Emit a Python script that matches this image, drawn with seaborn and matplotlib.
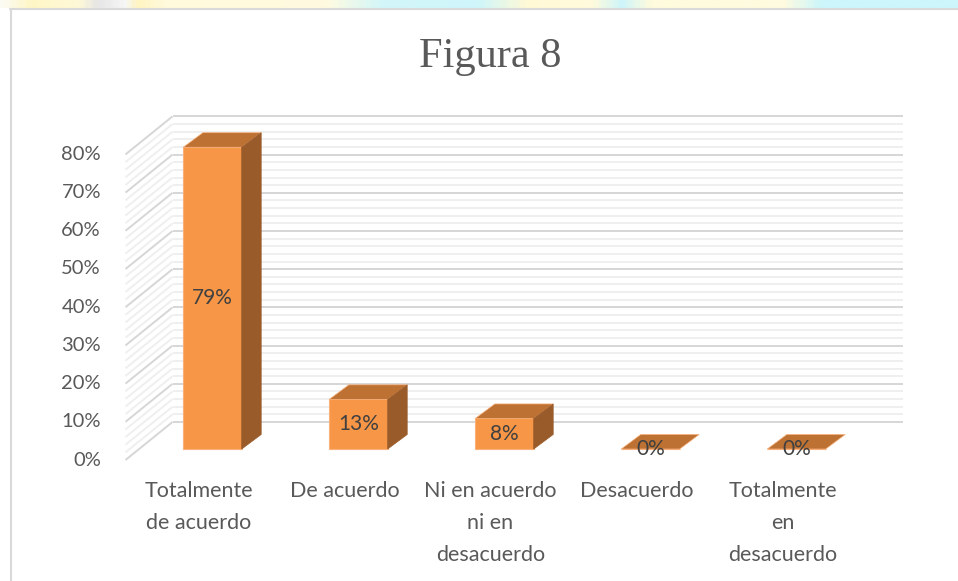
"""Figura 8: 3D-style column chart (Excel look) rebuilt with seaborn + matplotlib."""

import matplotlib

matplotlib.use("Agg")

import matplotlib.pyplot as plt
import numpy as np
import pandas as pd
import seaborn as sns
from matplotlib.colors import LinearSegmentedColormap
from matplotlib.lines import Line2D
from matplotlib.patches import Polygon
from matplotlib.transforms import offset_copy

# --- data -------------------------------------------------------------------
categories = [
    "Totalmente\nde acuerdo",
    "De acuerdo",
    "Ni en acuerdo\nni en\ndesacuerdo",
    "Desacuerdo",
    "Totalmente\nen\ndesacuerdo",
]
values = [0.79, 0.13, 0.08, 0.0, 0.0]
value_labels = ["79%", "13%", "8%", "0%", "0%"]
yticks = [0.0, 0.1, 0.2, 0.3, 0.4, 0.5, 0.6, 0.7, 0.8]
ytick_labels = ["0%", "10%", "20%", "30%", "40%", "50%", "60%", "70%", "80%"]
minor_step = 0.02
title = "Figura 8"

# --- style ------------------------------------------------------------------
FRONT = "#F79646"
TOP = "#BD7132"
SIDE = "#9A5B2A"
EDGE = "#F9B07A"
TEXT = "#595959"
LABEL = "#404040"
MAJOR = "#D6D6D6"
MINOR = "#EFEFEF"

sns.set_style("white")
plt.rcParams["font.family"] = ["Lato", "DejaVu Sans"]

W, H = 958, 581
fig = plt.figure(figsize=(W / 100, H / 100), dpi=100)
fig.patch.set_facecolor("white")

# faint watermark strip along the top edge
strip = fig.add_axes([0, 1 - 8 / H, 1, 8 / H])
stops = [
    (0.00, "#FBFBF2"), (0.03, "#FFF6C6"), (0.08, "#FFF9D8"), (0.10, "#E6E6E6"),
    (0.13, "#F7F7F7"), (0.14, "#FFF4C0"), (0.17, "#FFFADC"), (0.34, "#FFFBE0"),
    (0.40, "#D2F6FA"), (0.50, "#CFF6FA"), (0.55, "#FFF9D6"), (0.62, "#FFFBDC"),
    (0.65, "#CDF5FA"), (0.68, "#FFFBDD"), (0.82, "#FFFBE0"), (0.86, "#CCF6FB"),
    (1.00, "#CCF6FB"),
]
cmap = LinearSegmentedColormap.from_list("wm", stops)
strip.imshow(np.linspace(0, 1, 400)[None, :], aspect="auto", cmap=cmap)
strip.set_axis_off()

# chart border
fig.add_artist(Line2D([10 / W, 1], [1 - 8.5 / H, 1 - 8.5 / H], color="#D9D9D9", lw=1.5))
fig.add_artist(Line2D([10.5 / W, 10.5 / W], [0, 1 - 8.5 / H], color="#D9D9D9", lw=1.5))

fig.text(490 / W, 1 - 57 / H, title, family="Liberation Serif", fontsize=30.5,
         color=TEXT, ha="center", va="center")

# plot area = plane of the bars' front faces
ax = fig.add_axes([139.5 / W, 1 - 449 / H, 730 / W, 305.6 / H])
df = pd.DataFrame({"categoria": categories, "valor": values})
sns.barplot(data=df, x="categoria", y="valor", color=FRONT, saturation=1,
            width=0.4, edgecolor=EDGE, linewidth=0.8, zorder=3, ax=ax)
ax.set_xlim(-0.5, len(categories) - 0.5)
ax.set_ylim(0, yticks[-1])
for s in ax.spines.values():
    s.set_visible(False)
ax.set_xticks([])
ax.set_yticks([])
ax.set_xlabel("")
ax.set_ylabel("")
ax.patch.set_alpha(0)

# pixel -> data conversion for the oblique depth
o = ax.transData.transform((0, 0))
sx = ax.transData.transform((1, 0))[0] - o[0]
sy = ax.transData.transform((0, 1))[1] - o[1]
bdx, bdy = 19.5 / sx, 14.5 / sy      # bar depth
wdx, wdy = 33 / sx, 27 / sy          # back wall
fdx, fdy = -14 / sx, -11 / sy        # front edge of the side wall
x0, x1 = ax.get_xlim()

# back wall + left wall gridlines
n_minor = int(round(yticks[-1] / minor_step))
for k in range(n_minor + 1):
    y = k * minor_step
    major = k % 5 == 0
    c, lw, z = (MAJOR, 1.4, 1) if major else (MINOR, 1.4, 0.5)
    ax.plot([x0 + wdx, x1 + wdx], [y + wdy, y + wdy], color=c, lw=lw,
            zorder=z, clip_on=False, solid_capstyle="butt")
    ax.plot([x0 + fdx, x0 + wdx], [y + fdy, y + wdy], color=c, lw=lw,
            zorder=z, clip_on=False, solid_capstyle="butt")

# top and side faces of each column
for p in ax.patches:
    bx, bw, h = p.get_x(), p.get_width(), p.get_height()
    top = Polygon([(bx, h), (bx + bw, h), (bx + bw + bdx, h + bdy), (bx + bdx, h + bdy)],
                  closed=True, facecolor=TOP, edgecolor=EDGE, lw=0.5,
                  zorder=3, clip_on=False)
    ax.add_patch(top)
    if h > 0:
        side = Polygon([(bx + bw, 0), (bx + bw + bdx, bdy), (bx + bw + bdx, h + bdy),
                        (bx + bw, h)], closed=True, facecolor=SIDE, edgecolor=SIDE,
                       lw=0.5, zorder=3, clip_on=False)
        ax.add_patch(side)
    p.set_clip_on(False)

# data labels
for i, (v, lab) in enumerate(zip(values, value_labels)):
    ax.text(i, v / 2, lab, ha="center", va="center", fontsize=15,
            color=LABEL, zorder=5, clip_on=False)

# y tick labels on the front edge of the side wall
ytrans = offset_copy(ax.transData, fig=fig, x=-38.5, y=-11, units="dots")
for y, lab in zip(yticks, ytick_labels):
    ax.text(x0, y, lab, transform=ytrans, ha="right", va="center",
            fontsize=14.5, color=TEXT)

# category labels on the floor's front edge
xtrans = offset_copy(ax.transData, fig=fig, x=-14, y=-32, units="dots")
for i, lab in enumerate(categories):
    ax.text(i, 0, lab, transform=xtrans, ha="center", va="top",
            multialignment="center", linespacing=1.75, fontsize=15.5, color=TEXT)

fig.savefig("out.png", dpi=100)
